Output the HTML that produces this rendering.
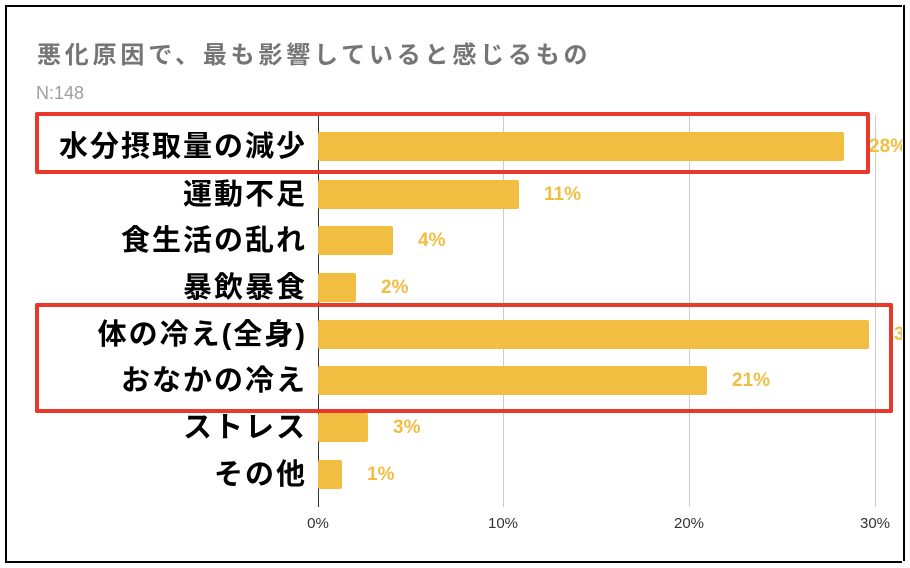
<!DOCTYPE html>
<html><head><meta charset="utf-8"><style>
body{margin:0;width:910px;height:568px;background:#fff;position:relative;overflow:hidden;font-family:"Liberation Sans","Noto Sans CJK JP",sans-serif}
.a{position:absolute}
.bar{position:absolute;left:318px;height:29px;background:#f1be42;border-radius:2px}
.lab{position:absolute;right:603px;font-size:29px;letter-spacing:2px;font-weight:bold;color:#000;line-height:30px;white-space:nowrap}
.val{position:absolute;font-size:19px;font-weight:bold;color:#f1be42;line-height:30px}
.grid{position:absolute;top:115px;width:1px;height:392px;background:#ccc}
.tick{position:absolute;top:515px;font-size:15px;color:#333;width:60px;text-align:center}
.red{position:absolute;border:4px solid #e8392b;border-radius:2px}
</style></head><body>
<div class="a" style="left:5px;top:5px;width:897px;height:554px;border:2px solid #000"></div>
<div class="a" style="left:37px;top:35px;font-size:24px;letter-spacing:3.8px;font-weight:bold;color:#757575;white-space:nowrap">悪化原因で、最も影響していると感じるもの</div>
<div class="a" style="left:36px;top:83px;font-size:18px;color:#9e9e9e">N:148</div>
<div class="grid" style="left:503px"></div>
<div class="grid" style="left:689px"></div>
<div class="grid" style="left:875px"></div>
<div class="a" style="left:318px;top:115px;width:1px;height:392px;background:#333"></div>

<div class="bar" style="top:132px;width:526px"></div>
<div class="bar" style="top:180px;width:201px"></div>
<div class="bar" style="top:226px;width:75px"></div>
<div class="bar" style="top:273px;width:38px"></div>
<div class="bar" style="top:320px;width:551px"></div>
<div class="bar" style="top:366px;width:389px"></div>
<div class="bar" style="top:413px;width:50px"></div>
<div class="bar" style="top:460px;width:24px"></div>

<div class="lab" style="top:132px">水分摂取量の減少</div>
<div class="lab" style="top:180px">運動不足</div>
<div class="lab" style="top:226px">食生活の乱れ</div>
<div class="lab" style="top:273px">暴飲暴食</div>
<div class="lab" style="top:320px">体の冷え(全身)</div>
<div class="lab" style="top:366px">おなかの冷え</div>
<div class="lab" style="top:413px">ストレス</div>
<div class="lab" style="top:460px">その他</div>

<div class="val" style="left:869px;top:132px">28%</div>
<div class="val" style="left:544px;top:180px">11%</div>
<div class="val" style="left:418px;top:226px">4%</div>
<div class="val" style="left:381px;top:273px">2%</div>
<div class="val" style="left:894px;top:320px">30%</div>
<div class="val" style="left:732px;top:366px">21%</div>
<div class="val" style="left:393px;top:413px">3%</div>
<div class="val" style="left:367px;top:460px">1%</div>

<div class="tick" style="left:288px">0%</div>
<div class="tick" style="left:473px">10%</div>
<div class="tick" style="left:659px">20%</div>
<div class="tick" style="left:845px">30%</div>

<div class="red" style="left:35px;top:112px;width:827px;height:54px"></div>
<div class="red" style="left:35px;top:303px;width:850px;height:102px"></div>
<div class="a" style="left:902px;top:5px;width:8px;height:563px;background:#fff"></div>
<div class="a" style="left:903px;top:5px;width:2px;height:556px;background:#000"></div>
</body></html>
